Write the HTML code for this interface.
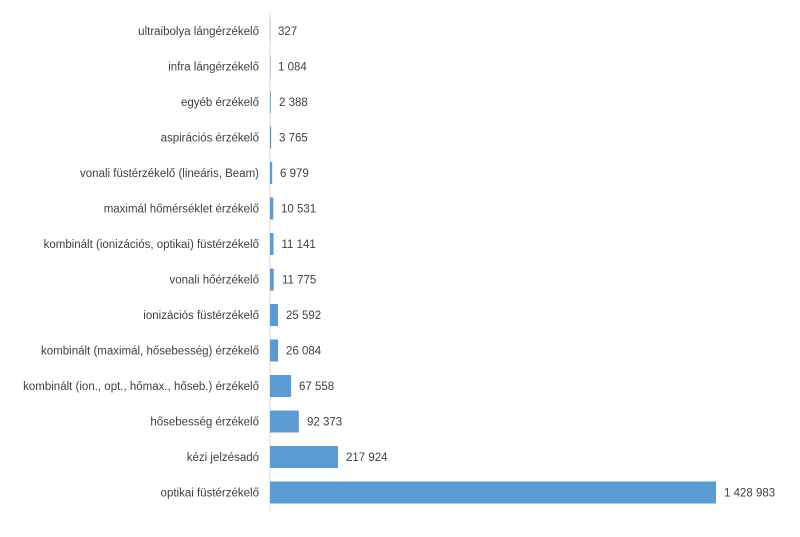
<!DOCTYPE html>
<html><head><meta charset="utf-8"><style>
body{margin:0;background:#fff;}
svg text{font-family:"Liberation Sans",sans-serif;font-size:11.5px;fill:#404040;}
</style></head><body>
<svg width="800" height="532" xmlns="http://www.w3.org/2000/svg">
<line x1="270" y1="13" x2="270" y2="511" stroke="#d9d9d9" stroke-width="1"/>
<g fill="#5b9bd5">
<rect x="270" y="20" width="0.3" height="22"/>
<rect x="270" y="55.5" width="0.5" height="22"/>
<rect x="270" y="91" width="0.8" height="22"/>
<rect x="270" y="126.5" width="1.2" height="22"/>
<rect x="270" y="162" width="2.2" height="22"/>
<rect x="270" y="197.5" width="3.3" height="22"/>
<rect x="270" y="233" width="3.5" height="22"/>
<rect x="270" y="268.5" width="3.7" height="22"/>
<rect x="270" y="304" width="8" height="22"/>
<rect x="270" y="339.5" width="8.1" height="22"/>
<rect x="270" y="375" width="21.1" height="22"/>
<rect x="270" y="410.5" width="28.8" height="22"/>
<rect x="270" y="446" width="68" height="22"/>
<rect x="270" y="481.5" width="446" height="22"/>
</g>
<g text-anchor="end">
<text x="259" y="35">ultraibolya lángérzékelő</text>
<text x="259" y="70.5">infra lángérzékelő</text>
<text x="259" y="106">egyéb érzékelő</text>
<text x="259" y="141.5">aspirációs érzékelő</text>
<text x="259" y="177">vonali füstérzékelő (lineáris, Beam)</text>
<text x="259" y="212.5">maximál hőmérséklet érzékelő</text>
<text x="259" y="248">kombinált (ionizációs, optikai) füstérzékelő</text>
<text x="259" y="283.5">vonali hőérzékelő</text>
<text x="259" y="319">ionizációs füstérzékelő</text>
<text x="259" y="354.5">kombinált (maximál, hősebesség) érzékelő</text>
<text x="259" y="390">kombinált (ion., opt., hőmax., hőseb.) érzékelő</text>
<text x="259" y="425.5">hősebesség érzékelő</text>
<text x="259" y="461">kézi jelzésadó</text>
<text x="259" y="496.5">optikai füstérzékelő</text>
</g>
<g>
<text x="278" y="35">327</text>
<text x="278" y="70.5">1 084</text>
<text x="279" y="106">2 388</text>
<text x="279" y="141.5">3 765</text>
<text x="280" y="177">6 979</text>
<text x="281" y="212.5">10 531</text>
<text x="281.5" y="248">11 141</text>
<text x="282" y="283.5">11 775</text>
<text x="286" y="319">25 592</text>
<text x="286" y="354.5">26 084</text>
<text x="299" y="390">67 558</text>
<text x="307" y="425.5">92 373</text>
<text x="346" y="461">217 924</text>
<text x="724" y="496.5">1 428 983</text>
</g>
</svg>
</body></html>
